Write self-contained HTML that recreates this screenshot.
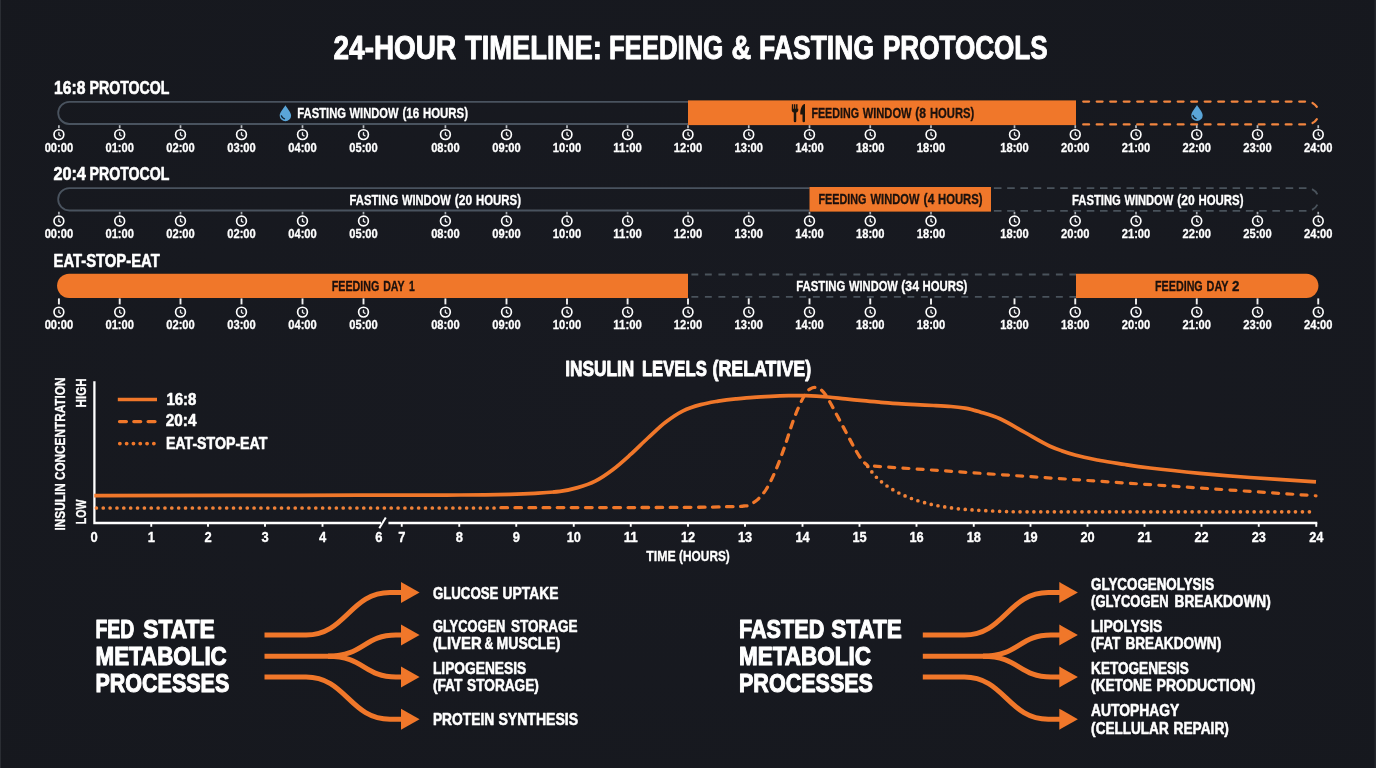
<!DOCTYPE html>
<html lang="en"><head><meta charset="utf-8"><title>24-Hour Timeline: Feeding &amp; Fasting Protocols</title>
<style>html,body{margin:0;padding:0;background:#16181f;}body{width:1376px;height:768px;overflow:hidden;}svg{display:block;font-family:'Liberation Sans', sans-serif;font-weight:700;}</style>
</head><body>
<svg width="1376" height="768" viewBox="0 0 1376 768">
<defs>
<radialGradient id="bg" cx="50%" cy="50%" r="75%"><stop offset="0" stop-color="#181a21"/><stop offset="1" stop-color="#16181e"/></radialGradient>
<g id="ck"><circle r="4.9" fill="none" stroke="#ffffff" stroke-width="1.65"/><path d="M0 -2V0.4L1.5 1.2" fill="none" stroke="#e4e6e8" stroke-width="1.4" stroke-linecap="round" stroke-linejoin="round"/></g>
<g id="drop"><path d="M0 -7.9C2.4 -4 5.7 -0.6 5.7 2.6A5.7 5.4 0 0 1 -5.7 2.6C-5.7 -0.6 -2.4 -4 0 -7.9Z" fill="#5aa5d8"/><path d="M-4 2.6C-3.4 4.4 -2.3 5.3 -0.9 5.7" fill="none" stroke="#10202e" stroke-width="1.3" stroke-linecap="round"/></g>
<g id="arrowsFed" fill="none" stroke="#f0772a" stroke-width="5" stroke-linecap="butt">
<path d="M264.5 635H306.0C346.0 635 350.0 592.5 390.0 592.5H404.0"/>
<path d="M264.5 677H306.0C346.0 677 350.0 719.2 390.0 719.2H404.0"/>
<path d="M264.5 656.2H336.0"/>
<path d="M328.0 656.2C364.0 656.2 364.0 635 396.0 635H404.0"/>
<path d="M328.0 656.2C364.0 656.2 364.0 677 396.0 677H404.0"/>
<path d="M401.0 582.0L419.6 592.5L401.0 603.0Z" fill="#f0772a" stroke="none"/>
<path d="M401.0 624.5L419.6 635L401.0 645.5Z" fill="#f0772a" stroke="none"/>
<path d="M401.0 666.5L419.6 677L401.0 687.5Z" fill="#f0772a" stroke="none"/>
<path d="M401.0 708.7L419.6 719.2L401.0 729.7Z" fill="#f0772a" stroke="none"/>
</g>
<g id="arrowsFasted" fill="none" stroke="#f0772a" stroke-width="5" stroke-linecap="butt">
<path d="M922.8 635H964.3C1004.3 635 1008.3 592.5 1048.3 592.5H1062.3"/>
<path d="M922.8 677H964.3C1004.3 677 1008.3 719.2 1048.3 719.2H1062.3"/>
<path d="M922.8 656.2H991.0"/>
<path d="M983.0 656.2C1019.0 656.2 1019.0 635 1051.0 635H1062.3"/>
<path d="M983.0 656.2C1019.0 656.2 1019.0 677 1051.0 677H1062.3"/>
<path d="M1059.3 582.0L1077.9 592.5L1059.3 603.0Z" fill="#f0772a" stroke="none"/>
<path d="M1059.3 624.5L1077.9 635L1059.3 645.5Z" fill="#f0772a" stroke="none"/>
<path d="M1059.3 666.5L1077.9 677L1059.3 687.5Z" fill="#f0772a" stroke="none"/>
<path d="M1059.3 708.7L1077.9 719.2L1059.3 729.7Z" fill="#f0772a" stroke="none"/>
</g>
<filter id="soft" x="0" y="0" width="1376" height="768" filterUnits="userSpaceOnUse"><feGaussianBlur stdDeviation="0.35"/></filter>
</defs>
<rect width="1376" height="768" fill="url(#bg)"/>
<rect x="0" y="0" width="1" height="768" fill="#2a2d33"/>
<rect x="1374.5" y="0" width="1.5" height="768" fill="#24262c"/>
<g filter="url(#soft)">
<text y="59.01" font-size="32.73" fill="#ffffff" stroke="#ffffff" stroke-width="0.98" stroke-linejoin="round"><tspan x="333.58" textLength="122.54" lengthAdjust="spacingAndGlyphs">24-HOUR</tspan> <tspan x="464.98" textLength="136.84" lengthAdjust="spacingAndGlyphs">TIMELINE:</tspan> <tspan x="608.88" textLength="114.44" lengthAdjust="spacingAndGlyphs">FEEDING</tspan> <tspan x="731.48" textLength="19.74" lengthAdjust="spacingAndGlyphs">&amp;</tspan> <tspan x="759.08" textLength="114.94" lengthAdjust="spacingAndGlyphs">FASTING</tspan> <tspan x="882.88" textLength="164.84" lengthAdjust="spacingAndGlyphs">PROTOCOLS</tspan></text>
<!-- 16:8 protocol -->
<text y="93.70" font-size="17.45" fill="#ffffff" stroke="#ffffff" stroke-width="0.59" stroke-linejoin="round"><tspan x="54.10" textLength="31.30" lengthAdjust="spacingAndGlyphs">16:8</tspan> <tspan x="89.60" textLength="79.80" lengthAdjust="spacingAndGlyphs">PROTOCOL</tspan></text>
<path d="M688 101.8H69.3A11.1 11.1 0 0 0 69.3 124H688" fill="none" stroke="#4a535e" stroke-width="1.8"/>
<rect x="688" y="100.4" width="388" height="24.7" fill="#f0772a"/>
<path d="M1083.2 101.6H1307.2A11.4 11.4 0 0 1 1318.6 113M1083.2 124.4H1307.2A11.4 11.4 0 0 0 1318.6 113" fill="none" stroke="#f2853f" stroke-width="2.2" stroke-dasharray="5.9 7.6" stroke-linecap="round"/>
<use href="#drop" x="285.4" y="113.2"/>
<text y="117.74" font-size="14.37" fill="#ffffff" stroke="#ffffff" stroke-width="0.32" stroke-linejoin="round"><tspan x="297.28" textLength="48.73" lengthAdjust="spacingAndGlyphs">FASTING</tspan> <tspan x="349.58" textLength="48.93" lengthAdjust="spacingAndGlyphs">WINDOW</tspan> <tspan x="402.48" textLength="16.73" lengthAdjust="spacingAndGlyphs">(16</tspan> <tspan x="422.98" textLength="45.03" lengthAdjust="spacingAndGlyphs">HOURS)</tspan></text>
<g fill="#1c120d"><path d="M791.9 104.2h1.3v4.6h0.75v-4.6h1.4v4.6h0.75v-4.6h1.4v4.6h0.75v-4.6h0v6c0 1.2-0.9 2-2 2.2v8.6a1.2 1.2 0 0 1-2.5 0v-8.6c-1.1-0.2-2-1-2-2.2z"/><path d="M805 104.1v16.9a1.25 1.25 0 0 1-2.5 0v-6.6h-2.2c-0.1-5.2 1.4-9.8 4.7-10.3z"/></g>
<text y="117.65" font-size="14.08" fill="#1c120d" stroke="#1c120d" stroke-width="0.31" stroke-linejoin="round"><tspan x="811.39" textLength="47.62" lengthAdjust="spacingAndGlyphs">FEEDING</tspan> <tspan x="862.69" textLength="48.92" lengthAdjust="spacingAndGlyphs">WINDOW</tspan> <tspan x="915.29" textLength="10.82" lengthAdjust="spacingAndGlyphs">(8</tspan> <tspan x="929.99" textLength="44.32" lengthAdjust="spacingAndGlyphs">HOURS)</tspan></text>
<use href="#drop" x="1197" y="112.9"/>
<g stroke="#b9bdc2" stroke-width="1.7">
<line x1="58.9" y1="125.2" x2="58.9" y2="128.3"/>
<line x1="119.7" y1="125.2" x2="119.7" y2="128.3"/>
<line x1="180.5" y1="125.2" x2="180.5" y2="128.3"/>
<line x1="241.5" y1="125.2" x2="241.5" y2="128.3"/>
<line x1="302.5" y1="125.2" x2="302.5" y2="128.3"/>
<line x1="363.5" y1="125.2" x2="363.5" y2="128.3"/>
<line x1="445.4" y1="125.2" x2="445.4" y2="128.3"/>
<line x1="506.5" y1="125.2" x2="506.5" y2="128.3"/>
<line x1="567" y1="125.2" x2="567" y2="128.3"/>
<line x1="627.6" y1="125.2" x2="627.6" y2="128.3"/>
<line x1="688" y1="125.2" x2="688" y2="128.3"/>
<line x1="748.75" y1="125.2" x2="748.75" y2="128.3"/>
<line x1="809.5" y1="125.2" x2="809.5" y2="128.3"/>
<line x1="870.25" y1="125.2" x2="870.25" y2="128.3"/>
<line x1="931" y1="125.2" x2="931" y2="128.3"/>
<line x1="1014.5" y1="125.2" x2="1014.5" y2="128.3"/>
<line x1="1075.25" y1="125.2" x2="1075.25" y2="128.3"/>
<line x1="1136" y1="125.2" x2="1136" y2="128.3"/>
<line x1="1196.75" y1="125.2" x2="1196.75" y2="128.3"/>
<line x1="1257.5" y1="125.2" x2="1257.5" y2="128.3"/>
<line x1="1318.25" y1="125.2" x2="1318.25" y2="128.3"/>
</g>
<use href="#ck" x="58.9" y="134.6"/>
<use href="#ck" x="119.7" y="134.6"/>
<use href="#ck" x="180.5" y="134.6"/>
<use href="#ck" x="241.5" y="134.6"/>
<use href="#ck" x="302.5" y="134.6"/>
<use href="#ck" x="363.5" y="134.6"/>
<use href="#ck" x="445.4" y="134.6"/>
<use href="#ck" x="506.5" y="134.6"/>
<use href="#ck" x="567" y="134.6"/>
<use href="#ck" x="627.6" y="134.6"/>
<use href="#ck" x="688" y="134.6"/>
<use href="#ck" x="748.75" y="134.6"/>
<use href="#ck" x="809.5" y="134.6"/>
<use href="#ck" x="870.25" y="134.6"/>
<use href="#ck" x="931" y="134.6"/>
<use href="#ck" x="1014.5" y="134.6"/>
<use href="#ck" x="1075.25" y="134.6"/>
<use href="#ck" x="1136" y="134.6"/>
<use href="#ck" x="1196.75" y="134.6"/>
<use href="#ck" x="1257.5" y="134.6"/>
<use href="#ck" x="1318.25" y="134.6"/>
<text y="151.67" font-size="11.97" fill="#ffffff" stroke="#ffffff" stroke-width="0.26" stroke-linejoin="round"><tspan x="44.65" textLength="28.49" lengthAdjust="spacingAndGlyphs">00:00</tspan></text>
<text y="151.67" font-size="11.97" fill="#ffffff" stroke="#ffffff" stroke-width="0.26" stroke-linejoin="round"><tspan x="105.45" textLength="28.49" lengthAdjust="spacingAndGlyphs">01:00</tspan></text>
<text y="151.67" font-size="11.97" fill="#ffffff" stroke="#ffffff" stroke-width="0.26" stroke-linejoin="round"><tspan x="166.25" textLength="28.49" lengthAdjust="spacingAndGlyphs">02:00</tspan></text>
<text y="151.67" font-size="11.97" fill="#ffffff" stroke="#ffffff" stroke-width="0.26" stroke-linejoin="round"><tspan x="227.25" textLength="28.49" lengthAdjust="spacingAndGlyphs">03:00</tspan></text>
<text y="151.67" font-size="11.97" fill="#ffffff" stroke="#ffffff" stroke-width="0.26" stroke-linejoin="round"><tspan x="288.25" textLength="28.49" lengthAdjust="spacingAndGlyphs">04:00</tspan></text>
<text y="151.67" font-size="11.97" fill="#ffffff" stroke="#ffffff" stroke-width="0.26" stroke-linejoin="round"><tspan x="349.25" textLength="28.49" lengthAdjust="spacingAndGlyphs">05:00</tspan></text>
<text y="151.67" font-size="11.97" fill="#ffffff" stroke="#ffffff" stroke-width="0.26" stroke-linejoin="round"><tspan x="431.15" textLength="28.49" lengthAdjust="spacingAndGlyphs">08:00</tspan></text>
<text y="151.67" font-size="11.97" fill="#ffffff" stroke="#ffffff" stroke-width="0.26" stroke-linejoin="round"><tspan x="492.25" textLength="28.49" lengthAdjust="spacingAndGlyphs">09:00</tspan></text>
<text y="151.67" font-size="11.97" fill="#ffffff" stroke="#ffffff" stroke-width="0.26" stroke-linejoin="round"><tspan x="552.75" textLength="28.49" lengthAdjust="spacingAndGlyphs">10:00</tspan></text>
<text y="151.67" font-size="11.97" fill="#ffffff" stroke="#ffffff" stroke-width="0.26" stroke-linejoin="round"><tspan x="613.35" textLength="28.49" lengthAdjust="spacingAndGlyphs">11:00</tspan></text>
<text y="151.67" font-size="11.97" fill="#ffffff" stroke="#ffffff" stroke-width="0.26" stroke-linejoin="round"><tspan x="673.75" textLength="28.49" lengthAdjust="spacingAndGlyphs">12:00</tspan></text>
<text y="151.67" font-size="11.97" fill="#ffffff" stroke="#ffffff" stroke-width="0.26" stroke-linejoin="round"><tspan x="734.50" textLength="28.49" lengthAdjust="spacingAndGlyphs">13:00</tspan></text>
<text y="151.67" font-size="11.97" fill="#ffffff" stroke="#ffffff" stroke-width="0.26" stroke-linejoin="round"><tspan x="795.25" textLength="28.49" lengthAdjust="spacingAndGlyphs">14:00</tspan></text>
<text y="151.67" font-size="11.97" fill="#ffffff" stroke="#ffffff" stroke-width="0.26" stroke-linejoin="round"><tspan x="856.00" textLength="28.49" lengthAdjust="spacingAndGlyphs">18:00</tspan></text>
<text y="151.67" font-size="11.97" fill="#ffffff" stroke="#ffffff" stroke-width="0.26" stroke-linejoin="round"><tspan x="916.75" textLength="28.49" lengthAdjust="spacingAndGlyphs">18:00</tspan></text>
<text y="151.67" font-size="11.97" fill="#ffffff" stroke="#ffffff" stroke-width="0.26" stroke-linejoin="round"><tspan x="1000.25" textLength="28.49" lengthAdjust="spacingAndGlyphs">18:00</tspan></text>
<text y="151.67" font-size="11.97" fill="#ffffff" stroke="#ffffff" stroke-width="0.26" stroke-linejoin="round"><tspan x="1061.00" textLength="28.49" lengthAdjust="spacingAndGlyphs">20:00</tspan></text>
<text y="151.67" font-size="11.97" fill="#ffffff" stroke="#ffffff" stroke-width="0.26" stroke-linejoin="round"><tspan x="1121.75" textLength="28.49" lengthAdjust="spacingAndGlyphs">21:00</tspan></text>
<text y="151.67" font-size="11.97" fill="#ffffff" stroke="#ffffff" stroke-width="0.26" stroke-linejoin="round"><tspan x="1182.50" textLength="28.49" lengthAdjust="spacingAndGlyphs">22:00</tspan></text>
<text y="151.67" font-size="11.97" fill="#ffffff" stroke="#ffffff" stroke-width="0.26" stroke-linejoin="round"><tspan x="1243.25" textLength="28.49" lengthAdjust="spacingAndGlyphs">23:00</tspan></text>
<text y="151.67" font-size="11.97" fill="#ffffff" stroke="#ffffff" stroke-width="0.26" stroke-linejoin="round"><tspan x="1304.00" textLength="28.49" lengthAdjust="spacingAndGlyphs">24:00</tspan></text>
<!-- 20:4 protocol -->
<text y="180.10" font-size="17.45" fill="#ffffff" stroke="#ffffff" stroke-width="0.59" stroke-linejoin="round"><tspan x="53.40" textLength="32.50" lengthAdjust="spacingAndGlyphs">20:4</tspan> <tspan x="89.60" textLength="79.80" lengthAdjust="spacingAndGlyphs">PROTOCOL</tspan></text>
<path d="M809.5 188.2H69.3A11.1 11.1 0 0 0 69.3 210.5H809.5" fill="none" stroke="#4a535e" stroke-width="1.8"/>
<rect x="809.5" y="187" width="181.5" height="24.6" fill="#f0772a"/>
<path d="M993.9 188.1H1307.2A11.4 11.4 0 0 1 1318.6 199.5M993.9 210.9H1307.2A11.4 11.4 0 0 0 1318.6 199.5" fill="none" stroke="#4a525b" stroke-width="1.8" stroke-dasharray="7.6 5.66"/>
<text y="204.54" font-size="14.37" fill="#ffffff" stroke="#ffffff" stroke-width="0.32" stroke-linejoin="round"><tspan x="349.58" textLength="48.73" lengthAdjust="spacingAndGlyphs">FASTING</tspan> <tspan x="401.88" textLength="48.93" lengthAdjust="spacingAndGlyphs">WINDOW</tspan> <tspan x="454.78" textLength="17.43" lengthAdjust="spacingAndGlyphs">(20</tspan> <tspan x="475.98" textLength="45.03" lengthAdjust="spacingAndGlyphs">HOURS)</tspan></text>
<text y="204.35" font-size="14.08" fill="#1c120d" stroke="#1c120d" stroke-width="0.31" stroke-linejoin="round"><tspan x="818.49" textLength="47.92" lengthAdjust="spacingAndGlyphs">FEEDING</tspan> <tspan x="870.59" textLength="48.82" lengthAdjust="spacingAndGlyphs">WINDOW</tspan> <tspan x="923.59" textLength="10.82" lengthAdjust="spacingAndGlyphs">(4</tspan> <tspan x="937.99" textLength="44.62" lengthAdjust="spacingAndGlyphs">HOURS)</tspan></text>
<text y="204.64" font-size="14.37" fill="#ffffff" stroke="#ffffff" stroke-width="0.32" stroke-linejoin="round"><tspan x="1072.08" textLength="48.73" lengthAdjust="spacingAndGlyphs">FASTING</tspan> <tspan x="1124.38" textLength="48.93" lengthAdjust="spacingAndGlyphs">WINDOW</tspan> <tspan x="1177.28" textLength="17.43" lengthAdjust="spacingAndGlyphs">(20</tspan> <tspan x="1198.48" textLength="45.03" lengthAdjust="spacingAndGlyphs">HOURS)</tspan></text>
<g stroke="#a9aeb4" stroke-width="1.7">
<line x1="58.9" y1="211.8" x2="58.9" y2="214.4"/>
<line x1="119.7" y1="211.8" x2="119.7" y2="214.4"/>
<line x1="180.5" y1="211.8" x2="180.5" y2="214.4"/>
<line x1="241.5" y1="211.8" x2="241.5" y2="214.4"/>
<line x1="302.5" y1="211.8" x2="302.5" y2="214.4"/>
<line x1="363.5" y1="211.8" x2="363.5" y2="214.4"/>
<line x1="445.4" y1="211.8" x2="445.4" y2="214.4"/>
<line x1="506.5" y1="211.8" x2="506.5" y2="214.4"/>
<line x1="567" y1="211.8" x2="567" y2="214.4"/>
<line x1="627.6" y1="211.8" x2="627.6" y2="214.4"/>
<line x1="688" y1="211.8" x2="688" y2="214.4"/>
<line x1="748.75" y1="211.8" x2="748.75" y2="214.4"/>
<line x1="809.5" y1="211.8" x2="809.5" y2="214.4"/>
<line x1="870.25" y1="211.8" x2="870.25" y2="214.4"/>
<line x1="931" y1="211.8" x2="931" y2="214.4"/>
<line x1="1014.5" y1="211.8" x2="1014.5" y2="214.4"/>
<line x1="1075.25" y1="211.8" x2="1075.25" y2="214.4"/>
<line x1="1136" y1="211.8" x2="1136" y2="214.4"/>
<line x1="1196.75" y1="211.8" x2="1196.75" y2="214.4"/>
<line x1="1257.5" y1="211.8" x2="1257.5" y2="214.4"/>
<line x1="1318.25" y1="211.8" x2="1318.25" y2="214.4"/>
</g>
<use href="#ck" x="58.9" y="221"/>
<use href="#ck" x="119.7" y="221"/>
<use href="#ck" x="180.5" y="221"/>
<use href="#ck" x="241.5" y="221"/>
<use href="#ck" x="302.5" y="221"/>
<use href="#ck" x="363.5" y="221"/>
<use href="#ck" x="445.4" y="221"/>
<use href="#ck" x="506.5" y="221"/>
<use href="#ck" x="567" y="221"/>
<use href="#ck" x="627.6" y="221"/>
<use href="#ck" x="688" y="221"/>
<use href="#ck" x="748.75" y="221"/>
<use href="#ck" x="809.5" y="221"/>
<use href="#ck" x="870.25" y="221"/>
<use href="#ck" x="931" y="221"/>
<use href="#ck" x="1014.5" y="221"/>
<use href="#ck" x="1075.25" y="221"/>
<use href="#ck" x="1136" y="221"/>
<use href="#ck" x="1196.75" y="221"/>
<use href="#ck" x="1257.5" y="221"/>
<use href="#ck" x="1318.25" y="221"/>
<text y="238.27" font-size="11.97" fill="#ffffff" stroke="#ffffff" stroke-width="0.26" stroke-linejoin="round"><tspan x="44.65" textLength="28.49" lengthAdjust="spacingAndGlyphs">00:00</tspan></text>
<text y="238.27" font-size="11.97" fill="#ffffff" stroke="#ffffff" stroke-width="0.26" stroke-linejoin="round"><tspan x="105.45" textLength="28.49" lengthAdjust="spacingAndGlyphs">01:00</tspan></text>
<text y="238.27" font-size="11.97" fill="#ffffff" stroke="#ffffff" stroke-width="0.26" stroke-linejoin="round"><tspan x="166.25" textLength="28.49" lengthAdjust="spacingAndGlyphs">02:00</tspan></text>
<text y="238.27" font-size="11.97" fill="#ffffff" stroke="#ffffff" stroke-width="0.26" stroke-linejoin="round"><tspan x="227.25" textLength="28.49" lengthAdjust="spacingAndGlyphs">02:00</tspan></text>
<text y="238.27" font-size="11.97" fill="#ffffff" stroke="#ffffff" stroke-width="0.26" stroke-linejoin="round"><tspan x="288.25" textLength="28.49" lengthAdjust="spacingAndGlyphs">04:00</tspan></text>
<text y="238.27" font-size="11.97" fill="#ffffff" stroke="#ffffff" stroke-width="0.26" stroke-linejoin="round"><tspan x="349.25" textLength="28.49" lengthAdjust="spacingAndGlyphs">05:00</tspan></text>
<text y="238.27" font-size="11.97" fill="#ffffff" stroke="#ffffff" stroke-width="0.26" stroke-linejoin="round"><tspan x="431.15" textLength="28.49" lengthAdjust="spacingAndGlyphs">08:00</tspan></text>
<text y="238.27" font-size="11.97" fill="#ffffff" stroke="#ffffff" stroke-width="0.26" stroke-linejoin="round"><tspan x="492.25" textLength="28.49" lengthAdjust="spacingAndGlyphs">09:00</tspan></text>
<text y="238.27" font-size="11.97" fill="#ffffff" stroke="#ffffff" stroke-width="0.26" stroke-linejoin="round"><tspan x="552.75" textLength="28.49" lengthAdjust="spacingAndGlyphs">10:00</tspan></text>
<text y="238.27" font-size="11.97" fill="#ffffff" stroke="#ffffff" stroke-width="0.26" stroke-linejoin="round"><tspan x="613.35" textLength="28.49" lengthAdjust="spacingAndGlyphs">11:00</tspan></text>
<text y="238.27" font-size="11.97" fill="#ffffff" stroke="#ffffff" stroke-width="0.26" stroke-linejoin="round"><tspan x="673.75" textLength="28.49" lengthAdjust="spacingAndGlyphs">12:00</tspan></text>
<text y="238.27" font-size="11.97" fill="#ffffff" stroke="#ffffff" stroke-width="0.26" stroke-linejoin="round"><tspan x="734.50" textLength="28.49" lengthAdjust="spacingAndGlyphs">13:00</tspan></text>
<text y="238.27" font-size="11.97" fill="#ffffff" stroke="#ffffff" stroke-width="0.26" stroke-linejoin="round"><tspan x="795.25" textLength="28.49" lengthAdjust="spacingAndGlyphs">14:00</tspan></text>
<text y="238.27" font-size="11.97" fill="#ffffff" stroke="#ffffff" stroke-width="0.26" stroke-linejoin="round"><tspan x="856.00" textLength="28.49" lengthAdjust="spacingAndGlyphs">18:00</tspan></text>
<text y="238.27" font-size="11.97" fill="#ffffff" stroke="#ffffff" stroke-width="0.26" stroke-linejoin="round"><tspan x="916.75" textLength="28.49" lengthAdjust="spacingAndGlyphs">18:00</tspan></text>
<text y="238.27" font-size="11.97" fill="#ffffff" stroke="#ffffff" stroke-width="0.26" stroke-linejoin="round"><tspan x="1000.25" textLength="28.49" lengthAdjust="spacingAndGlyphs">18:00</tspan></text>
<text y="238.27" font-size="11.97" fill="#ffffff" stroke="#ffffff" stroke-width="0.26" stroke-linejoin="round"><tspan x="1061.00" textLength="28.49" lengthAdjust="spacingAndGlyphs">20:00</tspan></text>
<text y="238.27" font-size="11.97" fill="#ffffff" stroke="#ffffff" stroke-width="0.26" stroke-linejoin="round"><tspan x="1121.75" textLength="28.49" lengthAdjust="spacingAndGlyphs">21:00</tspan></text>
<text y="238.27" font-size="11.97" fill="#ffffff" stroke="#ffffff" stroke-width="0.26" stroke-linejoin="round"><tspan x="1182.50" textLength="28.49" lengthAdjust="spacingAndGlyphs">22:00</tspan></text>
<text y="238.27" font-size="11.97" fill="#ffffff" stroke="#ffffff" stroke-width="0.26" stroke-linejoin="round"><tspan x="1243.25" textLength="28.49" lengthAdjust="spacingAndGlyphs">25:00</tspan></text>
<text y="238.27" font-size="11.97" fill="#ffffff" stroke="#ffffff" stroke-width="0.26" stroke-linejoin="round"><tspan x="1304.00" textLength="28.49" lengthAdjust="spacingAndGlyphs">24:00</tspan></text>
<!-- eat-stop-eat -->
<text y="266.70" font-size="17.45" fill="#ffffff" stroke="#ffffff" stroke-width="0.59" stroke-linejoin="round"><tspan x="53.60" textLength="106.10" lengthAdjust="spacingAndGlyphs">EAT-STOP-EAT</tspan></text>
<path d="M688 273.7H69.2A12.15 12.15 0 0 0 69.2 298H688Z" fill="#f0772a"/>
<path d="M691.4 274.5H1076M691.4 296.8H1076" fill="none" stroke="#4a525b" stroke-width="1.8" stroke-dasharray="6.9 6.6"/>
<path d="M1076 273.7H1306.3A12.15 12.15 0 0 1 1306.3 298H1076Z" fill="#f0772a"/>
<text y="290.85" font-size="14.08" fill="#1c120d" stroke="#1c120d" stroke-width="0.31" stroke-linejoin="round"><tspan x="331.69" textLength="47.62" lengthAdjust="spacingAndGlyphs">FEEDING</tspan> <tspan x="383.19" textLength="21.22" lengthAdjust="spacingAndGlyphs">DAY</tspan> <tspan x="409.09" textLength="5.82" lengthAdjust="spacingAndGlyphs">1</tspan></text>
<text y="290.84" font-size="14.37" fill="#ffffff" stroke="#ffffff" stroke-width="0.32" stroke-linejoin="round"><tspan x="796.28" textLength="49.03" lengthAdjust="spacingAndGlyphs">FASTING</tspan> <tspan x="848.98" textLength="48.93" lengthAdjust="spacingAndGlyphs">WINDOW</tspan> <tspan x="901.28" textLength="17.83" lengthAdjust="spacingAndGlyphs">(34</tspan> <tspan x="922.48" textLength="44.83" lengthAdjust="spacingAndGlyphs">HOURS)</tspan></text>
<text y="290.85" font-size="14.08" fill="#1c120d" stroke="#1c120d" stroke-width="0.31" stroke-linejoin="round"><tspan x="1155.09" textLength="47.62" lengthAdjust="spacingAndGlyphs">FEEDING</tspan> <tspan x="1206.59" textLength="21.72" lengthAdjust="spacingAndGlyphs">DAY</tspan> <tspan x="1232.09" textLength="7.42" lengthAdjust="spacingAndGlyphs">2</tspan></text>
<g stroke="#f2f2f2" stroke-width="1.9">
<line x1="58.9" y1="298.4" x2="58.9" y2="304.4"/>
<line x1="119.7" y1="298.4" x2="119.7" y2="304.4"/>
<line x1="180.5" y1="298.4" x2="180.5" y2="304.4"/>
<line x1="241.5" y1="298.4" x2="241.5" y2="304.4"/>
<line x1="302.5" y1="298.4" x2="302.5" y2="304.4"/>
<line x1="363.5" y1="298.4" x2="363.5" y2="304.4"/>
<line x1="445.4" y1="298.4" x2="445.4" y2="304.4"/>
<line x1="506.5" y1="298.4" x2="506.5" y2="304.4"/>
<line x1="567" y1="298.4" x2="567" y2="304.4"/>
<line x1="627.6" y1="298.4" x2="627.6" y2="304.4"/>
<line x1="688" y1="298.4" x2="688" y2="304.4"/>
<line x1="748.75" y1="298.4" x2="748.75" y2="304.4"/>
<line x1="809.5" y1="298.4" x2="809.5" y2="304.4"/>
<line x1="870.25" y1="298.4" x2="870.25" y2="304.4"/>
<line x1="931" y1="298.4" x2="931" y2="304.4"/>
<line x1="1014.5" y1="298.4" x2="1014.5" y2="304.4"/>
<line x1="1075.25" y1="298.4" x2="1075.25" y2="304.4"/>
<line x1="1136" y1="298.4" x2="1136" y2="304.4"/>
<line x1="1196.75" y1="298.4" x2="1196.75" y2="304.4"/>
<line x1="1257.5" y1="298.4" x2="1257.5" y2="304.4"/>
<line x1="1318.25" y1="298.4" x2="1318.25" y2="304.4"/>
</g>
<use href="#ck" x="58.9" y="312.1"/>
<use href="#ck" x="119.7" y="312.1"/>
<use href="#ck" x="180.5" y="312.1"/>
<use href="#ck" x="241.5" y="312.1"/>
<use href="#ck" x="302.5" y="312.1"/>
<use href="#ck" x="363.5" y="312.1"/>
<use href="#ck" x="445.4" y="312.1"/>
<use href="#ck" x="506.5" y="312.1"/>
<use href="#ck" x="567" y="312.1"/>
<use href="#ck" x="627.6" y="312.1"/>
<use href="#ck" x="688" y="312.1"/>
<use href="#ck" x="748.75" y="312.1"/>
<use href="#ck" x="809.5" y="312.1"/>
<use href="#ck" x="870.25" y="312.1"/>
<use href="#ck" x="931" y="312.1"/>
<use href="#ck" x="1014.5" y="312.1"/>
<use href="#ck" x="1075.25" y="312.1"/>
<use href="#ck" x="1136" y="312.1"/>
<use href="#ck" x="1196.75" y="312.1"/>
<use href="#ck" x="1257.5" y="312.1"/>
<use href="#ck" x="1318.25" y="312.1"/>
<text y="329.27" font-size="11.97" fill="#ffffff" stroke="#ffffff" stroke-width="0.26" stroke-linejoin="round"><tspan x="44.65" textLength="28.49" lengthAdjust="spacingAndGlyphs">00:00</tspan></text>
<text y="329.27" font-size="11.97" fill="#ffffff" stroke="#ffffff" stroke-width="0.26" stroke-linejoin="round"><tspan x="105.45" textLength="28.49" lengthAdjust="spacingAndGlyphs">01:00</tspan></text>
<text y="329.27" font-size="11.97" fill="#ffffff" stroke="#ffffff" stroke-width="0.26" stroke-linejoin="round"><tspan x="166.25" textLength="28.49" lengthAdjust="spacingAndGlyphs">02:00</tspan></text>
<text y="329.27" font-size="11.97" fill="#ffffff" stroke="#ffffff" stroke-width="0.26" stroke-linejoin="round"><tspan x="227.25" textLength="28.49" lengthAdjust="spacingAndGlyphs">03:00</tspan></text>
<text y="329.27" font-size="11.97" fill="#ffffff" stroke="#ffffff" stroke-width="0.26" stroke-linejoin="round"><tspan x="288.25" textLength="28.49" lengthAdjust="spacingAndGlyphs">04:00</tspan></text>
<text y="329.27" font-size="11.97" fill="#ffffff" stroke="#ffffff" stroke-width="0.26" stroke-linejoin="round"><tspan x="349.25" textLength="28.49" lengthAdjust="spacingAndGlyphs">05:00</tspan></text>
<text y="329.27" font-size="11.97" fill="#ffffff" stroke="#ffffff" stroke-width="0.26" stroke-linejoin="round"><tspan x="431.15" textLength="28.49" lengthAdjust="spacingAndGlyphs">08:00</tspan></text>
<text y="329.27" font-size="11.97" fill="#ffffff" stroke="#ffffff" stroke-width="0.26" stroke-linejoin="round"><tspan x="492.25" textLength="28.49" lengthAdjust="spacingAndGlyphs">09:00</tspan></text>
<text y="329.27" font-size="11.97" fill="#ffffff" stroke="#ffffff" stroke-width="0.26" stroke-linejoin="round"><tspan x="552.75" textLength="28.49" lengthAdjust="spacingAndGlyphs">10:00</tspan></text>
<text y="329.27" font-size="11.97" fill="#ffffff" stroke="#ffffff" stroke-width="0.26" stroke-linejoin="round"><tspan x="613.35" textLength="28.49" lengthAdjust="spacingAndGlyphs">11:00</tspan></text>
<text y="329.27" font-size="11.97" fill="#ffffff" stroke="#ffffff" stroke-width="0.26" stroke-linejoin="round"><tspan x="673.75" textLength="28.49" lengthAdjust="spacingAndGlyphs">12:00</tspan></text>
<text y="329.27" font-size="11.97" fill="#ffffff" stroke="#ffffff" stroke-width="0.26" stroke-linejoin="round"><tspan x="734.50" textLength="28.49" lengthAdjust="spacingAndGlyphs">13:00</tspan></text>
<text y="329.27" font-size="11.97" fill="#ffffff" stroke="#ffffff" stroke-width="0.26" stroke-linejoin="round"><tspan x="795.25" textLength="28.49" lengthAdjust="spacingAndGlyphs">14:00</tspan></text>
<text y="329.27" font-size="11.97" fill="#ffffff" stroke="#ffffff" stroke-width="0.26" stroke-linejoin="round"><tspan x="856.00" textLength="28.49" lengthAdjust="spacingAndGlyphs">18:00</tspan></text>
<text y="329.27" font-size="11.97" fill="#ffffff" stroke="#ffffff" stroke-width="0.26" stroke-linejoin="round"><tspan x="916.75" textLength="28.49" lengthAdjust="spacingAndGlyphs">18:00</tspan></text>
<text y="329.27" font-size="11.97" fill="#ffffff" stroke="#ffffff" stroke-width="0.26" stroke-linejoin="round"><tspan x="1000.25" textLength="28.49" lengthAdjust="spacingAndGlyphs">18:00</tspan></text>
<text y="329.27" font-size="11.97" fill="#ffffff" stroke="#ffffff" stroke-width="0.26" stroke-linejoin="round"><tspan x="1061.00" textLength="28.49" lengthAdjust="spacingAndGlyphs">18:00</tspan></text>
<text y="329.27" font-size="11.97" fill="#ffffff" stroke="#ffffff" stroke-width="0.26" stroke-linejoin="round"><tspan x="1121.75" textLength="28.49" lengthAdjust="spacingAndGlyphs">20:00</tspan></text>
<text y="329.27" font-size="11.97" fill="#ffffff" stroke="#ffffff" stroke-width="0.26" stroke-linejoin="round"><tspan x="1182.50" textLength="28.49" lengthAdjust="spacingAndGlyphs">21:00</tspan></text>
<text y="329.27" font-size="11.97" fill="#ffffff" stroke="#ffffff" stroke-width="0.26" stroke-linejoin="round"><tspan x="1243.25" textLength="28.49" lengthAdjust="spacingAndGlyphs">23:00</tspan></text>
<text y="329.27" font-size="11.97" fill="#ffffff" stroke="#ffffff" stroke-width="0.26" stroke-linejoin="round"><tspan x="1304.00" textLength="28.49" lengthAdjust="spacingAndGlyphs">24:00</tspan></text>
<!-- insulin chart -->
<text y="376.24" font-size="21.78" fill="#ffffff" stroke="#ffffff" stroke-width="0.91" stroke-linejoin="round"><tspan x="565.19" textLength="69.03" lengthAdjust="spacingAndGlyphs">INSULIN</tspan> <tspan x="641.89" textLength="64.93" lengthAdjust="spacingAndGlyphs">LEVELS</tspan> <tspan x="712.49" textLength="98.63" lengthAdjust="spacingAndGlyphs">(RELATIVE)</tspan></text>
<g stroke="#ffffff" stroke-width="2.3" fill="none">
<path d="M94.4 381.2V523H381"/><path d="M388.4 523H1317.3"/>
<path d="M379.3 528.2L385.8 517.6" stroke-width="2"/>
</g>
<g stroke="#ffffff" stroke-width="1.9">
<line x1="151.25" y1="523" x2="151.25" y2="526.8"/>
<line x1="208" y1="523" x2="208" y2="526.8"/>
<line x1="265" y1="523" x2="265" y2="526.8"/>
<line x1="322.5" y1="523" x2="322.5" y2="526.8"/>
<line x1="401.75" y1="523" x2="401.75" y2="526.8"/>
<line x1="459.25" y1="523" x2="459.25" y2="526.8"/>
<line x1="516.25" y1="523" x2="516.25" y2="526.8"/>
<line x1="573.75" y1="523" x2="573.75" y2="526.8"/>
<line x1="630.75" y1="523" x2="630.75" y2="526.8"/>
<line x1="688" y1="523" x2="688" y2="526.8"/>
<line x1="745" y1="523" x2="745" y2="526.8"/>
<line x1="802.5" y1="523" x2="802.5" y2="526.8"/>
<line x1="859.5" y1="523" x2="859.5" y2="526.8"/>
<line x1="916.5" y1="523" x2="916.5" y2="526.8"/>
<line x1="973.75" y1="523" x2="973.75" y2="526.8"/>
<line x1="1030.5" y1="523" x2="1030.5" y2="526.8"/>
<line x1="1087.5" y1="523" x2="1087.5" y2="526.8"/>
<line x1="1144.5" y1="523" x2="1144.5" y2="526.8"/>
<line x1="1201.5" y1="523" x2="1201.5" y2="526.8"/>
<line x1="1258.75" y1="523" x2="1258.75" y2="526.8"/>
<line x1="1316.25" y1="523" x2="1316.25" y2="526.8"/>
</g>
<text y="541.95" font-size="14.08" fill="#ffffff" stroke="#ffffff" stroke-width="0.31" stroke-linejoin="round"><tspan x="90.39" textLength="7.22" lengthAdjust="spacingAndGlyphs">0</tspan></text>
<text y="541.95" font-size="14.08" fill="#ffffff" stroke="#ffffff" stroke-width="0.31" stroke-linejoin="round"><tspan x="147.64" textLength="7.22" lengthAdjust="spacingAndGlyphs">1</tspan></text>
<text y="541.95" font-size="14.08" fill="#ffffff" stroke="#ffffff" stroke-width="0.31" stroke-linejoin="round"><tspan x="204.39" textLength="7.22" lengthAdjust="spacingAndGlyphs">2</tspan></text>
<text y="541.95" font-size="14.08" fill="#ffffff" stroke="#ffffff" stroke-width="0.31" stroke-linejoin="round"><tspan x="261.39" textLength="7.22" lengthAdjust="spacingAndGlyphs">3</tspan></text>
<text y="541.95" font-size="14.08" fill="#ffffff" stroke="#ffffff" stroke-width="0.31" stroke-linejoin="round"><tspan x="318.89" textLength="7.22" lengthAdjust="spacingAndGlyphs">4</tspan></text>
<text y="541.95" font-size="14.08" fill="#ffffff" stroke="#ffffff" stroke-width="0.31" stroke-linejoin="round"><tspan x="375.14" textLength="7.22" lengthAdjust="spacingAndGlyphs">6</tspan></text>
<text y="541.95" font-size="14.08" fill="#ffffff" stroke="#ffffff" stroke-width="0.31" stroke-linejoin="round"><tspan x="398.14" textLength="7.22" lengthAdjust="spacingAndGlyphs">7</tspan></text>
<text y="541.95" font-size="14.08" fill="#ffffff" stroke="#ffffff" stroke-width="0.31" stroke-linejoin="round"><tspan x="455.64" textLength="7.22" lengthAdjust="spacingAndGlyphs">8</tspan></text>
<text y="541.95" font-size="14.08" fill="#ffffff" stroke="#ffffff" stroke-width="0.31" stroke-linejoin="round"><tspan x="512.64" textLength="7.22" lengthAdjust="spacingAndGlyphs">9</tspan></text>
<text y="541.95" font-size="14.08" fill="#ffffff" stroke="#ffffff" stroke-width="0.31" stroke-linejoin="round"><tspan x="566.64" textLength="14.22" lengthAdjust="spacingAndGlyphs">10</tspan></text>
<text y="541.95" font-size="14.08" fill="#ffffff" stroke="#ffffff" stroke-width="0.31" stroke-linejoin="round"><tspan x="623.64" textLength="14.22" lengthAdjust="spacingAndGlyphs">11</tspan></text>
<text y="541.95" font-size="14.08" fill="#ffffff" stroke="#ffffff" stroke-width="0.31" stroke-linejoin="round"><tspan x="680.89" textLength="14.22" lengthAdjust="spacingAndGlyphs">12</tspan></text>
<text y="541.95" font-size="14.08" fill="#ffffff" stroke="#ffffff" stroke-width="0.31" stroke-linejoin="round"><tspan x="737.89" textLength="14.22" lengthAdjust="spacingAndGlyphs">13</tspan></text>
<text y="541.95" font-size="14.08" fill="#ffffff" stroke="#ffffff" stroke-width="0.31" stroke-linejoin="round"><tspan x="795.39" textLength="14.22" lengthAdjust="spacingAndGlyphs">14</tspan></text>
<text y="541.95" font-size="14.08" fill="#ffffff" stroke="#ffffff" stroke-width="0.31" stroke-linejoin="round"><tspan x="852.39" textLength="14.22" lengthAdjust="spacingAndGlyphs">15</tspan></text>
<text y="541.95" font-size="14.08" fill="#ffffff" stroke="#ffffff" stroke-width="0.31" stroke-linejoin="round"><tspan x="909.39" textLength="14.22" lengthAdjust="spacingAndGlyphs">16</tspan></text>
<text y="541.95" font-size="14.08" fill="#ffffff" stroke="#ffffff" stroke-width="0.31" stroke-linejoin="round"><tspan x="966.64" textLength="14.22" lengthAdjust="spacingAndGlyphs">18</tspan></text>
<text y="541.95" font-size="14.08" fill="#ffffff" stroke="#ffffff" stroke-width="0.31" stroke-linejoin="round"><tspan x="1023.39" textLength="14.22" lengthAdjust="spacingAndGlyphs">19</tspan></text>
<text y="541.95" font-size="14.08" fill="#ffffff" stroke="#ffffff" stroke-width="0.31" stroke-linejoin="round"><tspan x="1080.39" textLength="14.22" lengthAdjust="spacingAndGlyphs">20</tspan></text>
<text y="541.95" font-size="14.08" fill="#ffffff" stroke="#ffffff" stroke-width="0.31" stroke-linejoin="round"><tspan x="1137.39" textLength="14.22" lengthAdjust="spacingAndGlyphs">21</tspan></text>
<text y="541.95" font-size="14.08" fill="#ffffff" stroke="#ffffff" stroke-width="0.31" stroke-linejoin="round"><tspan x="1194.39" textLength="14.22" lengthAdjust="spacingAndGlyphs">22</tspan></text>
<text y="541.95" font-size="14.08" fill="#ffffff" stroke="#ffffff" stroke-width="0.31" stroke-linejoin="round"><tspan x="1251.64" textLength="14.22" lengthAdjust="spacingAndGlyphs">23</tspan></text>
<text y="541.95" font-size="14.08" fill="#ffffff" stroke="#ffffff" stroke-width="0.31" stroke-linejoin="round"><tspan x="1309.14" textLength="14.22" lengthAdjust="spacingAndGlyphs">24</tspan></text>
<text y="560.94" font-size="14.37" fill="#ffffff" stroke="#ffffff" stroke-width="0.32" stroke-linejoin="round"><tspan x="646.28" textLength="29.53" lengthAdjust="spacingAndGlyphs">TIME</tspan> <tspan x="679.08" textLength="50.73" lengthAdjust="spacingAndGlyphs">(HOURS)</tspan></text>
<text transform="translate(64.84 530.43) rotate(-90)" font-size="14.79" textLength="152.86" lengthAdjust="spacingAndGlyphs" fill="#ffffff" stroke="#ffffff" stroke-width="0.33" stroke-linejoin="round">INSULIN CONCENTRATION</text>
<text transform="translate(86.33 407.44) rotate(-90)" font-size="15.07" textLength="29.07" lengthAdjust="spacingAndGlyphs" fill="#ffffff" stroke="#ffffff" stroke-width="0.33" stroke-linejoin="round">HIGH</text>
<text transform="translate(86.33 524.24) rotate(-90)" font-size="15.07" textLength="24.67" lengthAdjust="spacingAndGlyphs" fill="#ffffff" stroke="#ffffff" stroke-width="0.33" stroke-linejoin="round">LOW</text>
<g stroke="#f0772a" stroke-width="3.5" fill="none">
<path d="M117.8 399.5H157"/>
<path d="M119.5 421.6H156" stroke-dasharray="6.9 7.4" stroke-linecap="round" stroke-width="3.3"/>
<path d="M119.85 443.6H155" stroke-dasharray="0 6.8" stroke-linecap="round" stroke-width="3.9"/>
</g>
<text y="404.52" font-size="16.62" fill="#ffffff" stroke="#ffffff" stroke-width="0.57" stroke-linejoin="round"><tspan x="166.42" textLength="29.96" lengthAdjust="spacingAndGlyphs">16:8</tspan></text>
<text y="426.42" font-size="16.62" fill="#ffffff" stroke="#ffffff" stroke-width="0.57" stroke-linejoin="round"><tspan x="165.82" textLength="30.56" lengthAdjust="spacingAndGlyphs">20:4</tspan></text>
<text y="448.52" font-size="16.62" fill="#ffffff" stroke="#ffffff" stroke-width="0.57" stroke-linejoin="round"><tspan x="165.92" textLength="101.46" lengthAdjust="spacingAndGlyphs">EAT-STOP-EAT</tspan></text>
<g fill="none" stroke="#f0772a">
<path d="M94.3 495.7C138.6 495.6 299.1 495.3 360.0 495.2C420.9 495.1 435.0 495.1 460.0 495.0C485.0 494.9 497.5 494.6 510.0 494.3C522.5 494.0 526.7 493.8 535.0 493.3C543.3 492.8 552.9 492.3 560.0 491.4C567.1 490.4 571.7 489.3 577.6 487.6C583.5 485.9 589.4 484.1 595.2 481.1C601.1 478.1 606.9 474.1 612.7 469.7C618.6 465.3 624.4 460.0 630.3 454.7C636.2 449.4 642.0 443.4 647.9 438.0C653.8 432.6 659.6 426.7 665.5 422.2C671.4 417.7 677.2 413.7 683.1 410.8C689.0 407.9 694.9 406.2 700.7 404.6C706.6 403.0 712.4 402.1 718.2 401.1C724.1 400.2 729.9 399.5 735.8 398.9C741.7 398.3 747.5 397.7 753.4 397.3C759.3 396.9 765.1 396.6 771.0 396.3C776.9 396.0 782.8 395.8 788.6 395.7C794.4 395.6 799.5 395.4 806.0 395.6C812.5 395.8 821.3 396.4 827.9 397.0C834.5 397.6 839.6 398.3 845.5 398.9C851.4 399.5 857.2 400.1 863.1 400.7C869.0 401.3 874.9 401.8 880.7 402.3C886.6 402.8 892.4 403.2 898.2 403.6C904.1 404.0 909.9 404.3 915.8 404.6C921.7 404.9 927.5 405.2 933.4 405.5C939.3 405.8 945.7 406.1 951.0 406.5C956.3 406.9 961.2 407.5 965.0 408.1C968.8 408.7 971.3 409.6 973.8 410.2C976.3 410.8 975.6 410.6 980.0 412.0C984.4 413.4 992.5 415.4 1000.0 418.8C1007.5 422.2 1016.7 427.9 1025.0 432.5C1033.3 437.1 1041.7 442.4 1050.0 446.2C1058.3 449.9 1066.7 452.6 1075.0 455.0C1083.3 457.4 1091.7 458.9 1100.0 460.5C1108.3 462.1 1116.7 463.2 1125.0 464.5C1133.3 465.8 1137.5 466.5 1150.0 468.0C1162.5 469.5 1183.3 471.7 1200.0 473.3C1216.7 474.9 1230.7 476.1 1250.0 477.5C1269.3 478.9 1305.0 481.1 1316.0 481.8" stroke-width="3.7"/>
<path d="M500.9 507.7C530.8 507.6 641.0 507.6 680.0 507.4C719.0 507.2 724.3 506.7 735.0 506.5C745.7 506.3 741.7 506.2 744.0 506.0C746.3 505.8 746.5 506.3 748.8 505.2C751.1 504.1 754.7 502.3 757.6 499.6C760.5 496.9 763.5 493.7 766.4 489.0C769.3 484.3 772.3 478.1 775.2 471.4C778.1 464.7 781.1 456.8 784.0 448.6C786.9 440.4 790.1 429.5 792.7 422.2C795.3 414.9 797.6 409.4 799.8 404.6C802.0 399.8 804.1 395.8 805.9 393.2C807.6 390.6 808.7 389.8 810.3 388.8C811.9 387.8 813.5 387.2 815.3 387.4C817.1 387.5 819.1 388.3 820.9 389.7C822.7 391.1 824.2 392.7 826.2 395.8C828.2 398.9 830.9 403.9 833.2 408.1C835.5 412.4 837.9 416.9 840.2 421.3C842.6 425.7 844.9 430.1 847.3 434.5C849.6 438.9 852.0 443.6 854.3 447.7C856.6 451.8 859.1 456.1 861.3 459.1C863.5 462.1 866.5 464.5 867.5 465.6" stroke-width="3.3" stroke-dasharray="6.6 7.5" stroke-linecap="round"/>
<path d="M874.5 466.2L1316 495.8" stroke-width="3.2" stroke-dasharray="6 8.25" stroke-linecap="round"/>
<path d="M96.4 508H494.6" stroke-width="3.7" stroke-dasharray="0 6.856" stroke-linecap="round" stroke="#f18238"/>
<path d="M867.8 466.5C868.3 467.2 869.7 469.3 871.0 470.9C872.3 472.5 873.9 474.6 875.4 476.2C876.9 477.8 878.4 479.1 880.1 480.6C881.8 482.1 883.8 483.6 885.6 485.0C887.5 486.4 889.2 487.5 891.2 488.7C893.2 489.9 895.4 491.1 897.4 492.2C899.4 493.3 901.5 494.3 903.5 495.2C905.5 496.1 907.7 497.0 909.7 497.8C911.8 498.6 913.6 499.4 915.8 500.1C918.0 500.8 920.6 501.6 922.9 502.2C925.2 502.8 927.3 503.5 929.5 504.0C931.7 504.5 933.8 505.0 936.0 505.4C938.2 505.8 940.3 506.2 942.5 506.6C944.7 507.0 947.0 507.3 949.2 507.6C951.4 507.9 953.6 508.2 955.9 508.5C958.2 508.8 960.7 509.0 963.0 509.2C965.3 509.4 967.0 509.6 969.8 509.8C972.6 510.0 974.1 510.1 980.0 510.4C985.9 510.7 997.7 511.3 1005.0 511.5C1012.3 511.7 1008.2 511.8 1024.0 511.8C1039.8 511.9 1052.0 511.8 1100.0 511.8C1148.0 511.8 1276.7 511.8 1312.0 511.8" stroke-width="3.7" stroke-dasharray="0 6.88" stroke-linecap="round" stroke="#f18238"/>
</g>
<!-- metabolic processes -->
<text y="638.26" font-size="25.75" fill="#ffffff" stroke="#ffffff" stroke-width="1.08" stroke-linejoin="round"><tspan x="95.51" textLength="38.78" lengthAdjust="spacingAndGlyphs">FED</tspan> <tspan x="143.31" textLength="71.48" lengthAdjust="spacingAndGlyphs">STATE</tspan></text>
<text y="665.26" font-size="25.75" fill="#ffffff" stroke="#ffffff" stroke-width="1.08" stroke-linejoin="round"><tspan x="95.51" textLength="131.28" lengthAdjust="spacingAndGlyphs">METABOLIC</tspan></text>
<text y="691.96" font-size="25.75" fill="#ffffff" stroke="#ffffff" stroke-width="1.08" stroke-linejoin="round"><tspan x="95.51" textLength="133.78" lengthAdjust="spacingAndGlyphs">PROCESSES</tspan></text>
<use href="#arrowsFed"/>
<text y="598.52" font-size="16.62" fill="#ffffff" stroke="#ffffff" stroke-width="0.57" stroke-linejoin="round"><tspan x="432.92" textLength="65.46" lengthAdjust="spacingAndGlyphs">GLUCOSE</tspan> <tspan x="502.62" textLength="55.76" lengthAdjust="spacingAndGlyphs">UPTAKE</tspan></text>
<text y="631.92" font-size="16.62" fill="#ffffff" stroke="#ffffff" stroke-width="0.57" stroke-linejoin="round"><tspan x="432.92" textLength="72.46" lengthAdjust="spacingAndGlyphs">GLYCOGEN</tspan> <tspan x="510.92" textLength="66.76" lengthAdjust="spacingAndGlyphs">STORAGE</tspan></text>
<text y="649.02" font-size="16.62" fill="#ffffff" stroke="#ffffff" stroke-width="0.57" stroke-linejoin="round"><tspan x="432.92" textLength="48.76" lengthAdjust="spacingAndGlyphs">(LIVER</tspan> <tspan x="484.62" textLength="8.76" lengthAdjust="spacingAndGlyphs">&amp;</tspan> <tspan x="496.62" textLength="63.76" lengthAdjust="spacingAndGlyphs">MUSCLE)</tspan></text>
<text y="673.92" font-size="16.62" fill="#ffffff" stroke="#ffffff" stroke-width="0.57" stroke-linejoin="round"><tspan x="432.92" textLength="93.26" lengthAdjust="spacingAndGlyphs">LIPOGENESIS</tspan></text>
<text y="691.02" font-size="16.62" fill="#ffffff" stroke="#ffffff" stroke-width="0.57" stroke-linejoin="round"><tspan x="432.92" textLength="29.46" lengthAdjust="spacingAndGlyphs">(FAT</tspan> <tspan x="467.12" textLength="71.76" lengthAdjust="spacingAndGlyphs">STORAGE)</tspan></text>
<text y="724.72" font-size="16.62" fill="#ffffff" stroke="#ffffff" stroke-width="0.57" stroke-linejoin="round"><tspan x="432.92" textLength="61.26" lengthAdjust="spacingAndGlyphs">PROTEIN</tspan> <tspan x="498.42" textLength="79.76" lengthAdjust="spacingAndGlyphs">SYNTHESIS</tspan></text>
<text y="638.46" font-size="25.75" fill="#ffffff" stroke="#ffffff" stroke-width="1.08" stroke-linejoin="round"><tspan x="739.01" textLength="85.28" lengthAdjust="spacingAndGlyphs">FASTED</tspan> <tspan x="831.31" textLength="70.48" lengthAdjust="spacingAndGlyphs">STATE</tspan></text>
<text y="665.26" font-size="25.75" fill="#ffffff" stroke="#ffffff" stroke-width="1.08" stroke-linejoin="round"><tspan x="739.01" textLength="131.98" lengthAdjust="spacingAndGlyphs">METABOLIC</tspan></text>
<text y="691.96" font-size="25.75" fill="#ffffff" stroke="#ffffff" stroke-width="1.08" stroke-linejoin="round"><tspan x="739.01" textLength="133.98" lengthAdjust="spacingAndGlyphs">PROCESSES</tspan></text>
<use href="#arrowsFasted"/>
<text y="589.72" font-size="16.62" fill="#ffffff" stroke="#ffffff" stroke-width="0.57" stroke-linejoin="round"><tspan x="1091.12" textLength="123.06" lengthAdjust="spacingAndGlyphs">GLYCOGENOLYSIS</tspan></text>
<text y="607.22" font-size="16.62" fill="#ffffff" stroke="#ffffff" stroke-width="0.57" stroke-linejoin="round"><tspan x="1091.12" textLength="77.56" lengthAdjust="spacingAndGlyphs">(GLYCOGEN</tspan> <tspan x="1174.62" textLength="96.06" lengthAdjust="spacingAndGlyphs">BREAKDOWN)</tspan></text>
<text y="631.72" font-size="16.62" fill="#ffffff" stroke="#ffffff" stroke-width="0.57" stroke-linejoin="round"><tspan x="1091.12" textLength="71.26" lengthAdjust="spacingAndGlyphs">LIPOLYSIS</tspan></text>
<text y="649.02" font-size="16.62" fill="#ffffff" stroke="#ffffff" stroke-width="0.57" stroke-linejoin="round"><tspan x="1091.12" textLength="29.26" lengthAdjust="spacingAndGlyphs">(FAT</tspan> <tspan x="1125.42" textLength="95.76" lengthAdjust="spacingAndGlyphs">BREAKDOWN)</tspan></text>
<text y="673.72" font-size="16.62" fill="#ffffff" stroke="#ffffff" stroke-width="0.57" stroke-linejoin="round"><tspan x="1091.12" textLength="97.76" lengthAdjust="spacingAndGlyphs">KETOGENESIS</tspan></text>
<text y="691.02" font-size="16.62" fill="#ffffff" stroke="#ffffff" stroke-width="0.57" stroke-linejoin="round"><tspan x="1091.12" textLength="60.76" lengthAdjust="spacingAndGlyphs">(KETONE</tspan> <tspan x="1156.62" textLength="98.76" lengthAdjust="spacingAndGlyphs">PRODUCTION)</tspan></text>
<text y="716.02" font-size="16.62" fill="#ffffff" stroke="#ffffff" stroke-width="0.57" stroke-linejoin="round"><tspan x="1091.12" textLength="88.26" lengthAdjust="spacingAndGlyphs">AUTOPHAGY</tspan></text>
<text y="733.52" font-size="16.62" fill="#ffffff" stroke="#ffffff" stroke-width="0.57" stroke-linejoin="round"><tspan x="1091.12" textLength="77.56" lengthAdjust="spacingAndGlyphs">(CELLULAR</tspan> <tspan x="1173.62" textLength="55.26" lengthAdjust="spacingAndGlyphs">REPAIR)</tspan></text>
</g>
</svg></body></html>
